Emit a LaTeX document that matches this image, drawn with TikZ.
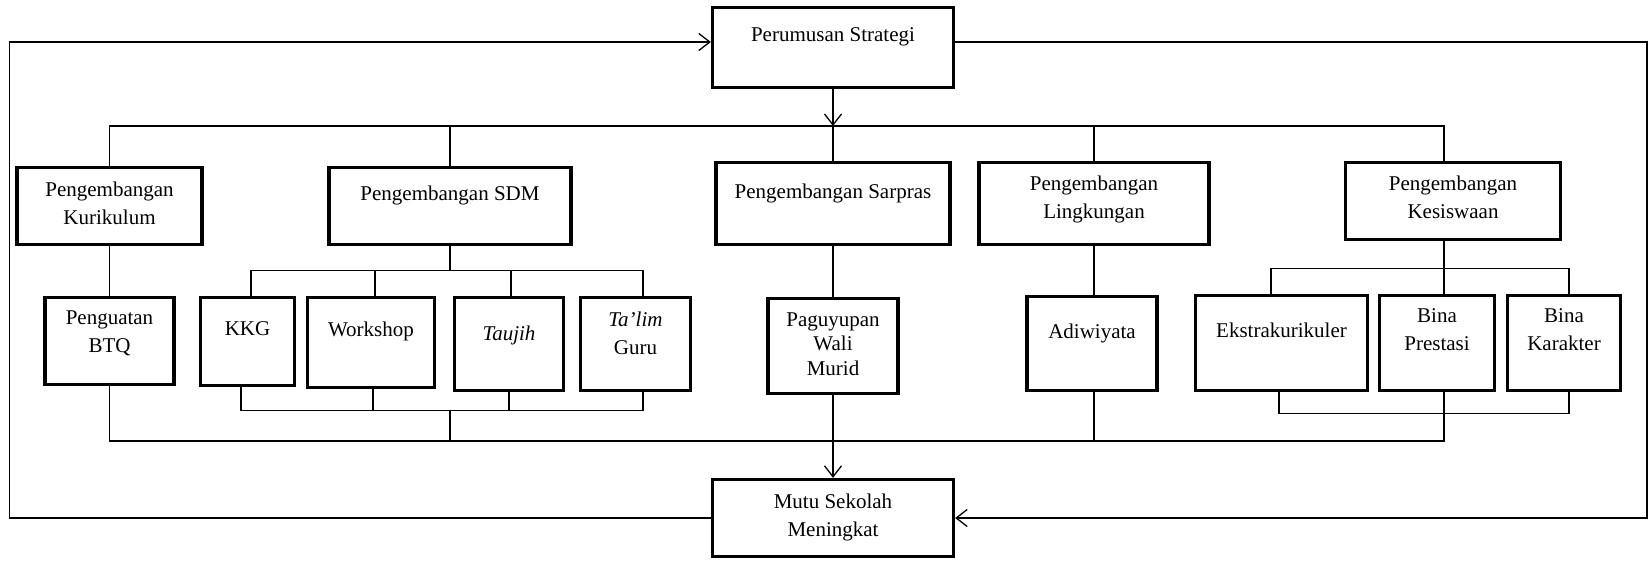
\documentclass[tikz,border=0pt]{standalone}
\usepackage{fontspec}
\setmainfont{Liberation Serif}
\usetikzlibrary{arrows.meta}
\begin{document}
\begin{tikzpicture}[x=1pt,y=-1pt,
  box/.style={draw, line width=3.3pt, inner sep=0pt},
  lbl/.style={font=\fontsize{21}{28}\selectfont, align=center, anchor=north, inner sep=0pt},
  conn/.style={line width=1.3pt},
  tip/.style={-{Straight Barb[length=11pt,width=17pt,line width=1.3pt]}}
]
\useasboundingbox (0,0) rectangle (1651,561);

% strategy and result
\node[box, minimum width=241pt, minimum height=80pt] (per) at (833,47.5) {};
\node[box, minimum width=241pt, minimum height=77pt] (mut) at (833,518) {};

% development areas
\node[box, minimum width=185pt, minimum height=77pt] (kur) at (109.5,206) {};
\node[box, minimum width=242pt, minimum height=77pt] (sdm) at (450,206) {};
\node[box, minimum width=234pt, minimum height=82pt] (sar) at (833,203.5) {};
\node[box, minimum width=230pt, minimum height=82pt] (lin) at (1094,203.5) {};
\node[box, minimum width=215pt, minimum height=77pt] (kes) at (1453,201) {};

% programmes
\node[box, minimum width=129pt, minimum height=87pt] (btq) at (109.5,341) {};
\node[box, minimum width=94pt,  minimum height=88pt] (kkg) at (247.5,341.5) {};
\node[box, minimum width=127pt, minimum height=90pt] (wor) at (371,342.5) {};
\node[box, minimum width=109pt, minimum height=93pt] (tau) at (509,344) {};
\node[box, minimum width=110pt, minimum height=93pt] (tal) at (635.5,344) {};
\node[box, minimum width=130pt, minimum height=95pt] (pag) at (833,346) {};
\node[box, minimum width=130pt, minimum height=94pt] (adi) at (1092,343.5) {};
\node[box, minimum width=172pt, minimum height=95pt] (eks) at (1281.5,343) {};
\node[box, minimum width=115pt, minimum height=95pt] (pre) at (1437,343) {};
\node[box, minimum width=113pt, minimum height=95pt] (kar) at (1564,343) {};

% texts
\node[lbl] (per-t) at ([yshift=-21.5pt]per.north) {Perumusan Strategi};
\node[lbl] (mut-t) at ([yshift=-15.5pt]mut.north) {Mutu Sekolah\\Meningkat};
\node[lbl] (kur-t) at ([yshift=-15.5pt]kur.north) {Pengembangan\\Kurikulum};
\node[lbl] (sdm-t) at ([yshift=-19.5pt]sdm.north) {Pengembangan SDM};
\node[lbl] (sar-t) at ([yshift=-22.5pt]sar.north) {Pengembangan Sarpras};
\node[lbl] (lin-t) at ([yshift=-14.5pt]lin.north) {Pengembangan\\Lingkungan};
\node[lbl] (kes-t) at ([yshift=-14.5pt]kes.north) {Pengembangan\\Kesiswaan};
\node[lbl] (btq-t) at ([yshift=-14.5pt]btq.north) {Penguatan\\BTQ};
\node[lbl] (kkg-t) at ([yshift=-25.5pt]kkg.north) {KKG};
\node[lbl] (wor-t) at ([yshift=-25.5pt]wor.north) {Workshop};
\node[lbl] (tau-t) at ([yshift=-29.5pt]tau.north) {\itshape Taujih};
\node[lbl] (tal-t) at ([yshift=-15.5pt]tal.north) {\itshape Ta’lim\\Guru};
\node[lbl, font=\fontsize{21}{24.5}\selectfont] (pag-t) at ([yshift=-15.5pt]pag.north) {Paguyupan\\Wali\\Murid};
\node[lbl] (adi-t) at ([yshift=-28.5pt]adi.north) {Adiwiyata};
\node[lbl] (eks-t) at ([yshift=-28.5pt]eks.north) {Ekstrakurikuler};
\node[lbl] (pre-t) at ([yshift=-14.5pt]pre.north) {Bina\\Prestasi};
\node[lbl] (kar-t) at ([yshift=-14.5pt]kar.north) {Bina\\Karakter};

% upper distribution bus
\coordinate (tb) at (833,126);
\draw[conn, tip] (per.south) -- (tb);
\draw[conn] (kur.north) |- (tb) -| ([xshift=-9pt]kes.north);
\draw[conn] (sdm.north) -- (sdm.north |- tb);
\draw[conn] (lin.north) -- (lin.north |- tb);
\draw[conn] (tb) -- (sar.north);

% curriculum and facilities branches
\draw[conn] (kur.south) -- (btq.north);
\draw[conn] (sar.south) -- (pag.north);
\draw[conn] (lin.south) -- (lin.south |- adi.north);

% human resources branch
\draw[conn] (sdm.south) -- ++(0,24.5) coordinate (sb);
\draw[conn] ([xshift=3.5pt]kkg.north) |- (sb) -| ([xshift=7.5pt]tal.north);
\draw[conn] ([xshift=4pt]wor.north) -- ([xshift=4pt]wor.north |- sb);
\draw[conn] ([xshift=2pt]tau.north) -- ([xshift=2pt]tau.north |- sb);
\draw[conn] ([xshift=-6.5pt]kkg.south) -- ++(0,23.5) coordinate (sdb) -| ([xshift=7.5pt]tal.south);
\draw[conn] ([xshift=2pt]wor.south) -- ([xshift=2pt]wor.south |- sdb);
\draw[conn] (tau.south) -- (tau.south |- sdb);

% student affairs branch
\draw[conn] ([xshift=-9pt]kes.south) -- ++(0,27.5) coordinate (kb);
\draw[conn] ([xshift=-10.5pt]eks.north) |- (kb) -| ([xshift=5pt]kar.north);
\draw[conn] (kb) -- ([xshift=7pt]pre.north);
\draw[conn] ([xshift=-2.5pt]eks.south) -- ++(0,21.5) coordinate (kdb) -| ([xshift=5pt]kar.south);

% lower collecting bus
\coordinate (mb) at (833,441);
\draw[conn] (btq.south) |- (mb) -| ([xshift=7pt]pre.south);
\draw[conn] (sdm.south |- sdb) -- (sdm.south |- mb);
\draw[conn] (lin.south |- adi.south) -- (lin.south |- mb);
\draw[conn, tip] (pag.south) -- (mut.north);

% feedback loop
\coordinate (lc) at (9.6,42);
\coordinate (rc) at (1647,42);
\draw[conn, tip] (mut.west) -| (lc) -- ([yshift=5.5pt]per.west);
\draw[conn, tip] ([yshift=5.5pt]per.east) -- (rc) |- (mut.east);
\end{tikzpicture}
\end{document}
